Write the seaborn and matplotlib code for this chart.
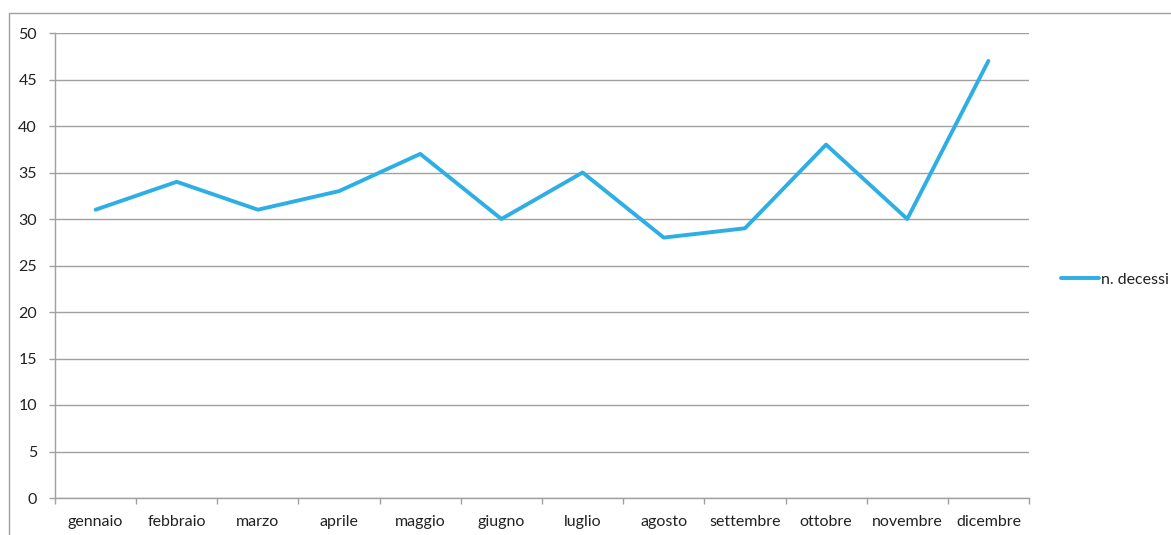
import matplotlib.pyplot as plt
import seaborn as sns
from matplotlib.lines import Line2D
from matplotlib.ticker import FixedLocator

# Data
mesi = ["gennaio", "febbraio", "marzo", "aprile", "maggio", "giugno",
        "luglio", "agosto", "settembre", "ottobre", "novembre", "dicembre"]
decessi = [31, 34, 31, 33, 37, 30, 35, 28, 29, 38, 30, 47]
y_ticks = list(range(0, 51, 5))

sns.set_style("white")
plt.rcParams['font.family'] = ['Lato', 'DejaVu Sans']

grey = "#A0A0A0"
blue = "#2DAEE4"
fs = 11.5

fig = plt.figure(figsize=(11.71, 5.35), dpi=100)
ax = fig.add_axes([55 / 1171, 37 / 535, (1029 - 55) / 1171, (498 - 33) / 535])

sns.lineplot(ax=ax, x=mesi, y=decessi, color=blue, linewidth=2.8,
             label="n. decessi", sort=False)

ax.set_xlim(-0.5, len(mesi) - 0.5)
ax.set_ylim(0, 50)
ax.set_yticks(y_ticks)
ax.yaxis.grid(True, color=grey, linewidth=1)
ax.xaxis.grid(False)

for s in ["top", "right"]:
    ax.spines[s].set_visible(False)
for s in ["left", "bottom"]:
    ax.spines[s].set_color(grey)
    ax.spines[s].set_linewidth(1)

# tick marks between categories, labels at centres
ax.xaxis.set_minor_locator(FixedLocator([i - 0.5 for i in range(len(mesi) + 1)]))
ax.tick_params(axis="x", which="major", bottom=True, length=0, pad=12,
               labelsize=fs, labelcolor="#222222")
ax.tick_params(axis="x", which="minor", bottom=True, length=4, width=1,
               color=grey, direction="out")
ax.tick_params(axis="y", which="major", left=True, length=4, width=1, color=grey,
               direction="out", pad=9, labelsize=fs, labelcolor="#222222")
ax.set_xlabel("")
ax.set_ylabel("")

ax.get_legend().remove()
fig.legend(loc="center left", bbox_to_anchor=(1053 / 1171, 1 - 280 / 535),
           frameon=False, fontsize=fs, handlelength=2.4, handletextpad=0.1,
           borderpad=0, labelcolor="#222222")

# chart border (left and top edges)
fig.add_artist(Line2D([8.5 / 1171, 8.5 / 1171], [0, 1 - 12.5 / 535],
                      transform=fig.transFigure, color=grey, linewidth=1))
fig.add_artist(Line2D([8.5 / 1171, 1], [1 - 12.5 / 535, 1 - 12.5 / 535],
                      transform=fig.transFigure, color=grey, linewidth=1))

plt.savefig("out.png", dpi=100)
